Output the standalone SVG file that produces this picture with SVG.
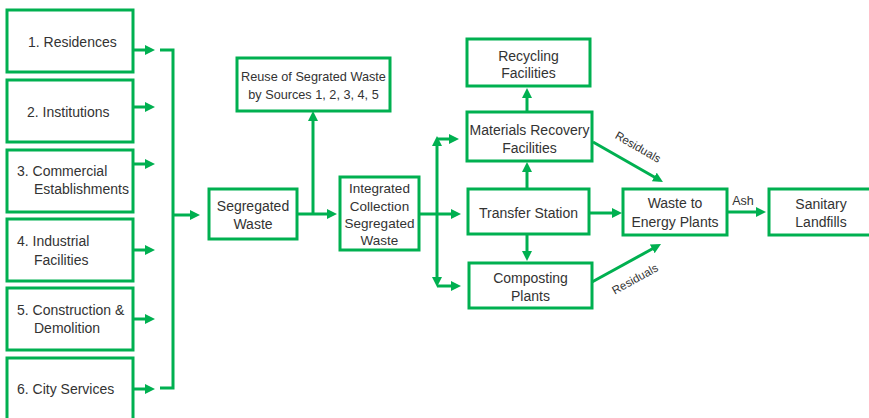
<svg xmlns="http://www.w3.org/2000/svg" width="869" height="418" viewBox="0 0 869 418">
<defs>
<marker id="ah" markerUnits="userSpaceOnUse" markerWidth="10" markerHeight="10" refX="6" refY="5" orient="auto">
<path d="M0,0 L10,5 L0,10 z" fill="#00B050"/>
</marker>
<style>
.box{fill:#fff;stroke:#00B050;stroke-width:3}
.t{font-family:"Liberation Sans",Arial,sans-serif;font-size:14px;fill:#333}
.c{text-anchor:middle}
.s{font-size:12.7px}
.m{font-size:13.5px}
.lbl{font-family:"Liberation Sans",Arial,sans-serif;font-size:11.5px;fill:#333;text-anchor:middle}
.ln{fill:none;stroke:#00B050;stroke-width:3}
.ar{fill:none;stroke:#00B050;stroke-width:3;marker-end:url(#ah)}
</style>
</defs>
<rect width="869" height="418" fill="#fff"/>

<g id="n1"><rect class="box" x="7" y="10" width="126" height="62"/><text class="t" x="28" y="47">1. Residences</text></g>
<g id="n2"><rect class="box" x="7" y="80" width="126" height="62"/><text class="t" x="27" y="117">2. Institutions</text></g>
<g id="n3"><rect class="box" x="7" y="150" width="126" height="62"/><text class="t" x="17" y="176">3. Commercial</text><text class="t" x="34" y="194">Establishments</text></g>
<g id="n4"><rect class="box" x="7" y="219" width="126" height="62"/><text class="t" x="17" y="246">4. Industrial</text><text class="t" x="34" y="265">Facilities</text></g>
<g id="n5"><rect class="box" x="7" y="288" width="126" height="62"/><text class="t" x="17" y="315">5. Construction &amp;</text><text class="t" x="34" y="333">Demolition</text></g>
<g id="n6"><rect class="box" x="7" y="358" width="126" height="64"/><text class="t" x="17" y="394">6. City Services</text></g>

<g id="seg"><rect class="box" x="209" y="189" width="88" height="50"/><text class="t c" x="253" y="211">Segregated</text><text class="t c" x="253" y="229">Waste</text></g>
<g id="reuse"><rect class="box" x="237" y="58" width="153" height="53"/><text class="t c s" x="313.5" y="81">Reuse of Segrated Waste</text><text class="t c s" x="313.5" y="99">by Sources 1, 2, 3, 4, 5</text></g>
<g id="integ"><rect class="box" x="340" y="177" width="79" height="73"/><text class="t c m" x="379.5" y="193">Integrated</text><text class="t c m" x="379.5" y="211">Collection</text><text class="t c m" x="379.5" y="228">Segregated</text><text class="t c m" x="379.5" y="245">Waste</text></g>
<g id="recyc"><rect class="box" x="467" y="39" width="123" height="47"/><text class="t c" x="528.5" y="61">Recycling</text><text class="t c" x="528.5" y="78">Facilities</text></g>
<g id="mrf"><rect class="box" x="467" y="112" width="125" height="49"/><text class="t c" x="529.5" y="135">Materials Recovery</text><text class="t c" x="529.5" y="153">Facilities</text></g>
<g id="ts"><rect class="box" x="468" y="189" width="121" height="45"/><text class="t c" x="528.5" y="218">Transfer Station</text></g>
<g id="comp"><rect class="box" x="469" y="263" width="123" height="45"/><text class="t c" x="530.5" y="283">Composting</text><text class="t c" x="530.5" y="301">Plants</text></g>
<g id="wte"><rect class="box" x="623" y="189" width="104" height="46"/><text class="t c" x="675" y="208">Waste to</text><text class="t c" x="675" y="227">Energy Plants</text></g>
<g id="land"><rect class="box" x="769" y="189" width="102" height="46"/><text class="t c" x="821" y="209">Sanitary</text><text class="t c" x="821" y="227">Landfills</text></g>

<g id="connectors">
<line class="ar" x1="133" y1="50" x2="151" y2="50"/>
<line class="ar" x1="133" y1="107" x2="151" y2="107"/>
<line class="ar" x1="133" y1="164" x2="151" y2="164"/>
<line class="ar" x1="133" y1="250" x2="151" y2="250"/>
<line class="ar" x1="133" y1="319" x2="151" y2="319"/>
<line class="ar" x1="133" y1="389" x2="151" y2="389"/>
<path class="ln" d="M160,50 H173 V388 H160"/>
<line class="ar" x1="173" y1="215" x2="196" y2="215"/>
<line class="ar" x1="297" y1="214" x2="333" y2="214"/>
<line class="ar" x1="313" y1="214" x2="313" y2="115"/>
<line class="ar" x1="419" y1="214" x2="457" y2="214"/>
<line class="ar" x1="437" y1="214" x2="437" y2="140"/>
<line class="ar" x1="437" y1="214" x2="437" y2="283"/>
<line class="ar" x1="437" y1="139" x2="455" y2="139"/>
<line class="ar" x1="437" y1="286" x2="457" y2="286"/>
<line class="ar" x1="527" y1="112" x2="527" y2="92"/>
<line class="ar" x1="527" y1="189" x2="527" y2="166"/>
<line class="ar" x1="527" y1="234" x2="527" y2="257"/>
<line class="ar" x1="589" y1="213" x2="618" y2="213"/>
<line class="ar" x1="593" y1="142" x2="659.5" y2="180"/>
<line class="ar" x1="592" y1="282" x2="657.5" y2="246"/>
<line class="ar" x1="727" y1="212" x2="762" y2="212"/>
<text class="lbl" x="638" y="151" transform="rotate(30 638 147)">Residuals</text>
<text class="lbl" x="635" y="283" transform="rotate(-29 635 279)">Residuals</text>
<text class="lbl" x="743" y="205" style="font-size:12.5px">Ash</text>
</g>
</svg>
